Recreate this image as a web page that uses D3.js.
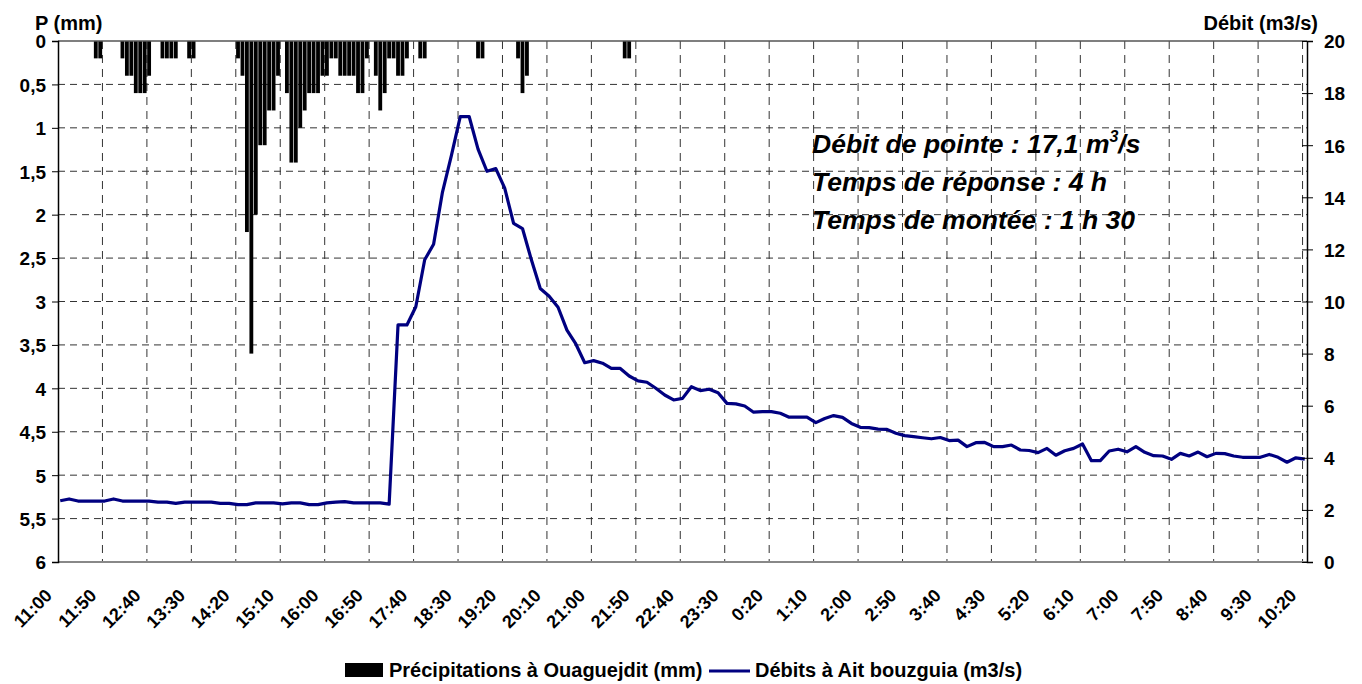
<!DOCTYPE html>
<html>
<head>
<meta charset="utf-8">
<script src="https://cdn.jsdelivr.net/npm/d3@7"></script>
<style>
  body { margin: 0; background: #fff; }
  text { font-family: Arial, "Liberation Sans", sans-serif; font-weight: bold; fill: #000; }
</style>
</head>
<body>
<svg id="chart" width="1362" height="684"></svg>
<script>
// ---- Data ----
// x axis labels (one every 50 min)
const xTickLabels = ["11:00","11:50","12:40","13:30","14:20","15:10","16:00","16:50","17:40","18:30",
  "19:20","20:10","21:00","21:50","22:40","23:30","0:20","1:10","2:00","2:50",
  "3:40","4:30","5:20","6:10","7:00","7:50","8:40","9:30","10:20"];

// rainfall at Ouaguejdit, 5-minute steps (only non-zero steps)
const rainTime = ["11:40","11:45",
  "12:10","12:15","12:20","12:25","12:30","12:35","12:40",
  "12:55","13:00","13:05","13:10",
  "13:25","13:30",
  "14:20","14:25","14:30","14:35","14:40","14:45","14:50","14:55","15:00","15:05",
  "15:15","15:20","15:25","15:30","15:35","15:40","15:45","15:50","15:55","16:00",
  "16:05","16:10","16:15","16:20","16:25","16:30","16:35","16:40","16:45",
  "16:55","17:00","17:05","17:10","17:15","17:20","17:25","17:30",
  "17:45","17:50",
  "18:50","18:55",
  "19:35","19:40","19:45",
  "21:35","21:40"];
const rainMm = [0.2,0.2,
  0.2,0.4,0.4,0.6,0.6,0.6,0.4,
  0.2,0.2,0.2,0.2,
  0.2,0.2,
  0.2,0.4,2.2,3.6,2.0,1.2,1.2,0.8,0.8,0.4,
  0.6,1.4,1.4,1.0,0.8,0.6,0.6,0.6,0.4,0.4,
  0.2,0.2,0.4,0.4,0.4,0.4,0.6,0.6,0.2,
  0.4,0.8,0.6,0.2,0.2,0.4,0.4,0.2,
  0.2,0.2,
  0.2,0.2,
  0.2,0.6,0.4,
  0.2,0.2];

// discharge at Ait bouzguia, every 10 min from 11:00 to 10:20
const flowValues = [
  2.35, 2.42, 2.34, 2.34, 2.34, 2.34, 2.42, 2.34, 2.34, 2.34,
  2.34, 2.30, 2.30, 2.25, 2.30, 2.30, 2.30, 2.30, 2.25, 2.25,
  2.20, 2.20, 2.27, 2.27, 2.27, 2.23, 2.27, 2.27, 2.20, 2.20,
  2.27, 2.30, 2.32, 2.27, 2.27, 2.27, 2.27, 2.22, 9.1, 9.1,
  9.8, 11.6, 12.2, 14.2, 15.6, 17.1, 17.1, 15.85, 15.0, 15.1,
  14.35, 13.0, 12.8, 11.6, 10.5, 10.2, 9.78, 8.9, 8.37, 7.65,
  7.73, 7.63, 7.43, 7.43, 7.14, 6.95, 6.9, 6.67, 6.41, 6.22,
  6.28, 6.73, 6.58, 6.63, 6.5, 6.09, 6.07, 5.99, 5.75, 5.77,
  5.77, 5.71, 5.56, 5.56, 5.56, 5.35, 5.51, 5.62, 5.55, 5.32,
  5.17, 5.16, 5.1, 5.09, 4.94, 4.85, 4.81, 4.77, 4.73, 4.78,
  4.66, 4.68, 4.43, 4.58, 4.59, 4.43, 4.43, 4.49, 4.3, 4.28,
  4.2, 4.36, 4.1, 4.27, 4.36, 4.53, 3.89, 3.89, 4.26, 4.33,
  4.23, 4.43, 4.21, 4.08, 4.07, 3.94, 4.17, 4.07, 4.22, 4.04,
  4.17, 4.16, 4.07, 4.02, 4.02, 4.02, 4.13, 4.02, 3.83, 4.0, 3.95];

const pTicks = [0, 0.5, 1, 1.5, 2, 2.5, 3, 3.5, 4, 4.5, 5, 5.5, 6];
const qTicks = [0, 2, 4, 6, 8, 10, 12, 14, 16, 18, 20];

// ---- Layout ----
const plotLeft = 58, plotRight = 1307, plotTop = 41, plotBottom = 562;
const svg = d3.select("#chart");
const FONT = "Arial, 'Liberation Sans', sans-serif";

// 5-minute categories 11:00 -> 10:20 next day
const fmtTime = m => { const t = (660 + m) % 1440; return Math.floor(t / 60) + ":" + String(t % 60).padStart(2, "0"); };
const slots = d3.range(0, 1401, 5).map(fmtTime);

const x = d3.scaleBand().domain(slots).range([plotLeft, plotRight]).paddingInner(0.14).paddingOuter(0.07);
const step = x.step();
const xEdge = d => x(d) - step * 0.07;           // left boundary of a category
const xMid = d => x(d) + x.bandwidth() / 2;
const yP = d3.scaleLinear().domain([0, 6]).range([plotTop, plotBottom]);
const yQ = d3.scaleLinear().domain([0, 20]).range([plotBottom, plotTop]);

const frFormat = d3.formatLocale({ decimal: ",", thousands: " ", grouping: [3], currency: ["", ""] }).format("~g");

// Grid
const grid = svg.append("g");
grid.selectAll(".hg").data(pTicks.slice(1, -1)).enter().append("line")
  .attr("x1", plotLeft).attr("x2", plotRight)
  .attr("y1", d => yP(d)).attr("y2", d => yP(d))
  .attr("stroke", "#333").attr("stroke-width", 1).attr("stroke-dasharray", "7,5");
grid.selectAll(".vg").data(xTickLabels.slice(1)).enter().append("line")
  .attr("x1", d => xEdge(d)).attr("x2", d => xEdge(d))
  .attr("y1", plotTop).attr("y2", plotBottom)
  .attr("stroke", "#333").attr("stroke-width", 1).attr("stroke-dasharray", "8,6");

// Rain bars
svg.append("g").selectAll("rect")
  .data(rainTime.map((t, i) => ({ t, v: rainMm[i] })))
  .enter().append("rect")
  .attr("x", d => x(d.t))
  .attr("y", yP(0))
  .attr("width", x.bandwidth())
  .attr("height", d => yP(d.v) - yP(0))
  .attr("fill", "#000");

// Frame lines
svg.append("line").attr("x1", plotLeft).attr("x2", plotRight).attr("y1", plotTop).attr("y2", plotTop)
  .attr("stroke", "#555").attr("stroke-width", 1.5);
svg.append("line").attr("x1", plotLeft).attr("x2", plotRight).attr("y1", plotBottom).attr("y2", plotBottom)
  .attr("stroke", "#888").attr("stroke-width", 2);

// Flow line
const line = d3.line().x(d => xMid(d[0])).y(d => yQ(d[1]));
svg.append("path")
  .datum(flowValues.map((v, k) => [slots[k * 2], v]))
  .attr("d", line)
  .attr("fill", "none")
  .attr("stroke", "#000080")
  .attr("stroke-width", 3.2)
  .attr("stroke-linejoin", "round");

// Left axis
const yAxisL = svg.append("g").attr("transform", `translate(${plotLeft},0)`)
  .call(d3.axisLeft(yP).tickValues(pTicks).tickSize(6).tickPadding(6).tickFormat(frFormat))
  .attr("font-family", FONT).attr("font-weight", "bold").attr("font-size", 19);
yAxisL.select(".domain").attr("stroke", "#000").attr("stroke-width", 1.5);
yAxisL.selectAll("text").attr("dy", "0.36em").attr("font-weight", "bold").attr("fill", "#000");

// Right axis
const yAxisR = svg.append("g").attr("transform", `translate(${plotRight},0)`)
  .call(d3.axisRight(yQ).tickValues(qTicks).tickSize(6).tickPadding(11))
  .attr("font-family", FONT).attr("font-weight", "bold").attr("font-size", 19);
yAxisR.select(".domain").attr("stroke", "#000").attr("stroke-width", 1.5);
yAxisR.selectAll(".tick line").attr("x1", -5);
yAxisR.selectAll("text").attr("dy", "0.36em").attr("font-weight", "bold").attr("fill", "#000");

// Bottom axis labels
const xAxis = svg.append("g").attr("transform", `translate(${-step / 2},${plotBottom})`)
  .call(d3.axisBottom(x).tickValues(xTickLabels).tickSize(0))
  .attr("font-family", FONT).attr("font-weight", "bold").attr("font-size", 18);
xAxis.select(".domain").remove();
xAxis.selectAll("text")
  .attr("font-weight", "bold").attr("fill", "#000")
  .attr("text-anchor", "end")
  .attr("x", -28).attr("y", 21).attr("dy", 0)
  .attr("transform", "rotate(-45)");

// Axis titles
svg.append("text").attr("x", 35).attr("y", 30).attr("font-size", 20).text("P (mm)");
svg.append("text").attr("x", 1318).attr("y", 30).attr("font-size", 20)
  .attr("text-anchor", "end").text("Débit (m3/s)");

// Annotation
const note = svg.append("g");
const t1 = note.append("text").attr("x", 812).attr("y", 153).attr("font-size", 26.5).style("font-style", "italic");
t1.append("tspan").text("Débit de pointe : 17,1 m");
t1.append("tspan").attr("dy", -11).attr("font-size", 16).text("3");
t1.append("tspan").attr("dy", 11).text("/s");
note.append("text").attr("x", 812).attr("y", 191).attr("font-size", 26.5).style("font-style", "italic")
  .text("Temps de réponse : 4 h");
note.append("text").attr("x", 812).attr("y", 229).attr("font-size", 26.5).style("font-style", "italic")
  .text("Temps de montée : 1 h 30");

// Legend
const lg = svg.append("g");
lg.append("rect").attr("x", 345).attr("y", 663).attr("width", 38).attr("height", 14).attr("fill", "#000");
lg.append("text").attr("x", 389).attr("y", 677).attr("font-size", 20).text("Précipitations à Ouaguejdit (mm)");
lg.append("line").attr("x1", 709).attr("x2", 750).attr("y1", 671).attr("y2", 671)
  .attr("stroke", "#000080").attr("stroke-width", 3);
lg.append("text").attr("x", 755).attr("y", 677).attr("font-size", 20).text("Débits à Ait bouzguia (m3/s)");
</script>
</body>
</html>
